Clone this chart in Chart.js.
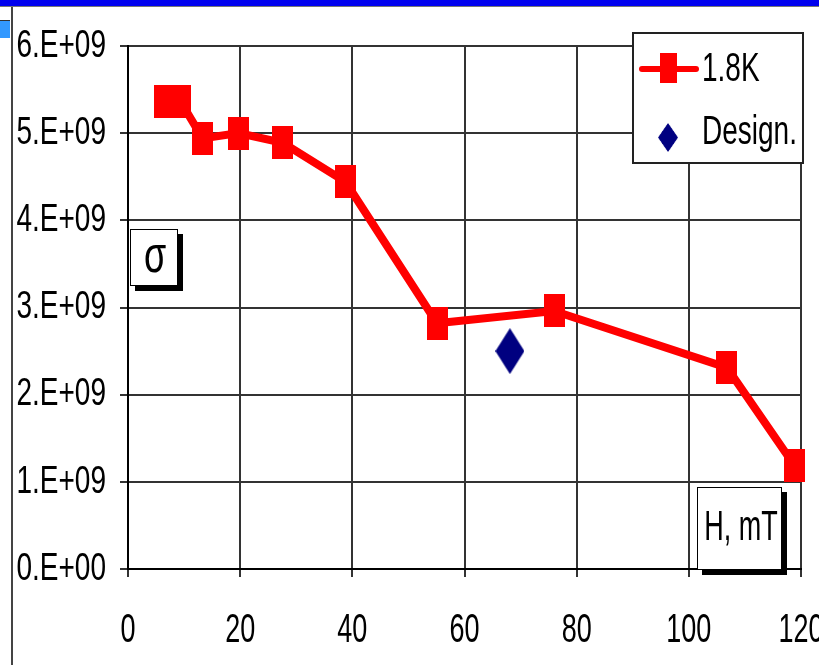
<!DOCTYPE html>
<html>
<head>
<meta charset="utf-8">
<script src="https://cdn.jsdelivr.net/npm/chart.js@4.4.1/dist/chart.umd.min.js"></script>
<style>
  html, body { margin: 0; padding: 0; background: #fff; }
  #wrap { position: relative; width: 819px; height: 665px; overflow: hidden; background: #fff; }
  #topbar { position: absolute; left: 0; top: 0; width: 819px; height: 6px; background: #0000ee; border-bottom: 1px solid #777; }
  #sideline { position: absolute; left: 11px; top: 7px; width: 2px; height: 658px; background: #444; }
  #tab { position: absolute; left: 0; top: 20px; width: 10px; height: 17px; background: #3399ff; border-top: 1px solid #333; }
  canvas { position: absolute; left: 0; top: 0; }
</style>
</head>
<body>
<div id="wrap">
  <div id="topbar"></div>
  <div id="sideline"></div>
  <div id="tab"></div>
  <canvas id="chart" width="819" height="665"></canvas>
</div>
<script>
'use strict';

// values
var fieldH     = [6.5, 9.4, 13.3, 19.7, 27.6, 38.8, 55.1, 76.0, 106.8, 118.8];
var sigma18K   = [5.36e9, 5.36e9, 4.94e9, 5.00e9, 4.89e9, 4.44e9, 2.82e9, 2.96e9, 2.31e9, 1.19e9];
var designH     = [68.1];
var designSigma = [2.50e9];
var seriesNames = ['1.8K', 'Design.'];
var axisNames   = ['σ', 'H, mT'];

var FONT = '"Liberation Sans", Arial, sans-serif';

function makeRect(w, h, color) {
  var c = document.createElement('canvas');
  c.width = w; c.height = h;
  var g = c.getContext('2d');
  g.fillStyle = color;
  g.fillRect(0, 0, w, h);
  return c;
}

function makeDiamond(w, h, color) {
  var c = document.createElement('canvas');
  c.width = w; c.height = h;
  var g = c.getContext('2d');
  g.fillStyle = color;
  g.beginPath();
  g.moveTo(w / 2, 0);
  g.lineTo(w, h / 2);
  g.lineTo(w / 2, h);
  g.lineTo(0, h / 2);
  g.closePath();
  g.fill();
  return c;
}

var redSquare = makeRect(21, 33, '#ff0000');
var navyDiamond = makeDiamond(29, 46, '#000080');

function toPoints(xs, ys) {
  var out = [];
  for (var i = 0; i < xs.length; i++) out.push({x: xs[i], y: ys[i]});
  return out;
}

// the original text is tall and narrow, so draw it stretched vertically
function tallText(ctx, txt, x, y, size, stretch, align) {
  ctx.save();
  ctx.font = size + 'px ' + FONT;
  ctx.textAlign = align;
  ctx.textBaseline = 'middle';
  ctx.fillStyle = '#000';
  ctx.translate(x, y);
  ctx.scale(1, stretch);
  ctx.fillText(txt, 0, 0);
  ctx.restore();
}

function fmtE(v) {
  if (v === 0) return '0.E+00';
  var e = Math.floor(Math.log10(v) + 1e-9);
  var m = Math.round(v / Math.pow(10, e));
  return m + '.E+' + (e < 10 ? '0' + e : e);
}

function shadowBox(ctx, x, y, w, h, off) {
  ctx.fillStyle = '#000';
  ctx.fillRect(x + off, y + off, w, h);
  ctx.fillStyle = '#fff';
  ctx.fillRect(x, y, w, h);
  ctx.strokeStyle = '#000';
  ctx.lineWidth = 1;
  ctx.strokeRect(x + 0.5, y + 0.5, w - 1, h - 1);
}

var extras = {
  id: 'extras',
  afterDraw: function(chart) {
    var ctx = chart.ctx;
    var xs = chart.scales.x, ys = chart.scales.y;

    ys.ticks.forEach(function(t, i) {
      tallText(ctx, fmtE(t.value), 106, ys.getPixelForTick(i), 28, 1.4, 'right');
    });
    xs.ticks.forEach(function(t, i) {
      tallText(ctx, String(t.value), xs.getPixelForTick(i), 631, 27, 1.5, 'center');
    });

    // legend
    ctx.save();
    ctx.fillStyle = '#fff';
    ctx.fillRect(632, 32, 172, 132);
    ctx.strokeStyle = '#222';
    ctx.lineWidth = 2;
    ctx.strokeRect(633, 33, 170, 130);
    ctx.strokeStyle = '#ff0000';
    ctx.lineWidth = 6;
    ctx.lineCap = 'round';
    ctx.beginPath();
    ctx.moveTo(642, 69);
    ctx.lineTo(696, 69);
    ctx.stroke();
    ctx.drawImage(redSquare, 660, 53, 17, 30);
    ctx.drawImage(navyDiamond, 658, 123, 20, 29);
    ctx.restore();
    tallText(ctx, chart.data.datasets[0].label, 702, 70, 28, 1.45, 'left');
    tallText(ctx, chart.data.datasets[1].label, 702, 133, 28, 1.45, 'left');

    // axis name boxes
    ctx.save();
    shadowBox(ctx, 130, 229, 48, 57, 5);
    shadowBox(ctx, 697, 487, 85, 83, 5);
    ctx.restore();
    tallText(ctx, axisNames[0], 155, 258, 36, 1.45, 'center');
    tallText(ctx, axisNames[1], 741, 528, 27, 1.55, 'center');
  }
};

new Chart(document.getElementById('chart'), {
  type: 'line',
  data: {
    datasets: [{
      label: seriesNames[0],
      data: toPoints(fieldH, sigma18K),
      borderColor: '#ff0000',
      borderWidth: 8,
      pointStyle: redSquare,
      pointRadius: 10,
      clip: false,
      tension: 0
    }, {
      label: seriesNames[1],
      data: toPoints(designH, designSigma),
      showLine: false,
      pointStyle: navyDiamond,
      pointRadius: 10,
      clip: false
    }]
  },
  options: {
    responsive: false,
    animation: false,
    devicePixelRatio: 1,
    layout: {padding: {left: 0, right: 14, top: 46, bottom: 0}},
    plugins: {legend: {display: false}, tooltip: {enabled: false}},
    scales: {
      x: {
        type: 'linear', min: 0, max: 120,
        ticks: {stepSize: 20, display: false},
        grid: {color: '#333', lineWidth: 2, tickLength: 8},
        border: {color: '#000', width: 2},
        afterFit: function(s) { s.height = 96; s.paddingLeft = 0; s.paddingRight = 0; }
      },
      y: {
        type: 'linear', min: 0, max: 6e9,
        ticks: {stepSize: 1e9, display: false},
        grid: {color: '#333', lineWidth: 2, tickLength: 8},
        border: {color: '#000', width: 2},
        afterFit: function(s) { s.width = 128; s.paddingTop = 0; s.paddingBottom = 0; }
      }
    }
  },
  plugins: [extras]
});
</script>
</body>
</html>
